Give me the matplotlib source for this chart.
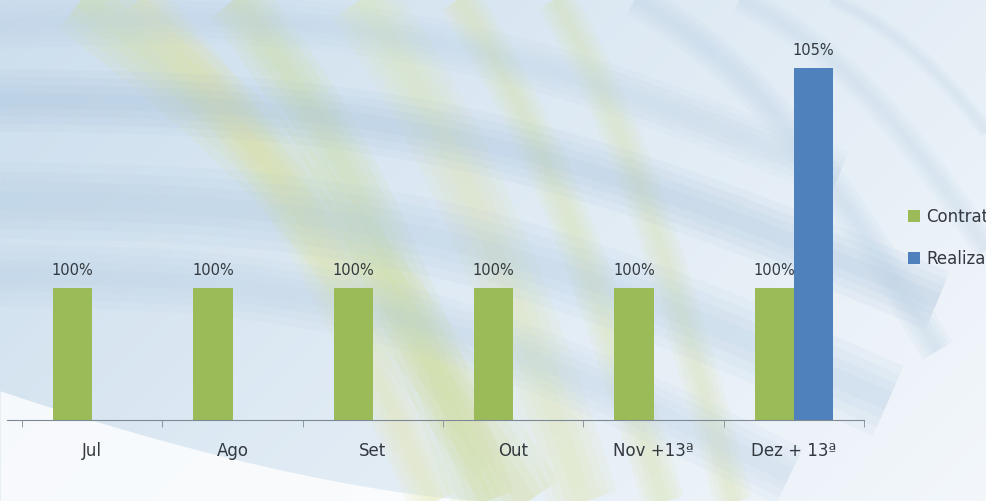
import matplotlib
matplotlib.use("Agg")
import matplotlib.pyplot as plt
import numpy as np

months = ["Jul", "Ago", "Set", "Out", "Nov +13ª", "Dez + 13ª"]
contratado = [100, 100, 100, 100, 100, 100]
realizado = [np.nan, np.nan, np.nan, np.nan, np.nan, 105]
series_names = ["Contratado", "Realizado"]

GREEN = "#9bbb59"
BLUE = "#4f81bd"
TEXT = "#33393f"

plt.rcParams["font.family"] = ["DejaVu Sans"]

W, H = 987, 501
fig = plt.figure(figsize=(W / 100, H / 100), dpi=100)

# --- background: pale swirl of blue / green streaks
bg = fig.add_axes([0, 0, 1, 1], zorder=0)
bg.set_xlim(0, 1); bg.set_ylim(0, 1); bg.axis("off")
yy, xx = np.mgrid[0:1:200j, 0:1:400j]
base = np.zeros((200, 400, 3))
light = np.clip(0.6 * xx + 0.3 * (1 - yy), 0, 1)[..., None]
base[:] = (1 - light) * np.array([0.80, 0.87, 0.93]) + light * np.array([0.97, 0.98, 0.99])
bg.imshow(base, extent=[0, 1, 0, 1], origin="lower", aspect="auto", zorder=0)

t = np.linspace(0, 1, 200)
streaks = [
    (0.05, 1.05, 0.55, -0.05, "#d4df9a", 55, 0.40),
    (0.12, 1.05, 0.45, -0.05, "#e2e7a8", 35, 0.40),
    (0.22, 1.05, 0.50, -0.05, "#cbdc8e", 45, 0.35),
    (0.35, 1.05, 0.60, -0.05, "#dfe5a6", 50, 0.35),
    (0.45, 1.05, 0.68, -0.05, "#d8e3a0", 30, 0.35),
    (0.55, 1.05, 0.75, -0.05, "#d6e09c", 28, 0.30),
    (0.00, 0.80, 0.95, 0.40, "#9fbdd9", 45, 0.30),
    (0.00, 0.60, 0.90, 0.20, "#a9c6e0", 55, 0.28),
    (0.00, 0.45, 0.80, 0.05, "#b3cbe3", 45, 0.28),
    (0.00, 0.95, 0.85, 0.65, "#b8cfe5", 35, 0.28),
    (0.60, 1.05, 0.95, 0.30, "#bcd2e6", 25, 0.35),
    (0.70, 1.05, 1.05, 0.35, "#c5d8ea", 20, 0.35),
    (0.78, 1.05, 1.10, 0.45, "#c9dbeb", 12, 0.35),
]
for x0, y0, x1, y1, c, lw, a in streaks:
    x = x0 + (x1 - x0) * t
    y = y0 + (y1 - y0) * t + 0.12 * np.sin(np.pi * t)
    # layered strokes give soft, blurred edges
    for k in (1.0, 0.75, 0.5, 0.25):
        bg.plot(x, y, color=c, lw=lw * k, alpha=a / 3, solid_capstyle="butt")
# white sweep at lower left
x = np.linspace(0, 0.5, 100)
bg.fill_between(x, 0, 0.22 * (1 - x / 0.5) ** 1.5, color="white", alpha=0.8, lw=0)

# --- chart
ax_left, ax_right = 7 / W, 864 / W
ax_bot, ax_top = (H - 420) / H, (H - 2) / H
ax = fig.add_axes([ax_left, ax_bot, ax_right - ax_left, ax_top - ax_bot], zorder=1)
ax.patch.set_alpha(0)

x = np.arange(len(months))
w = 0.28
ax.bar(x - w / 2, contratado, w, color=GREEN, label=series_names[0], zorder=2)
ax.bar(x + w / 2, realizado, w, color=BLUE, label=series_names[1], zorder=2)

ax.set_ylim(97, 106.5)
ax.set_xlim(-0.607, 5.5)

for xi, v in zip(x, contratado):
    ax.text(xi - w / 2, v + 0.22, f"{v:.0f}%", ha="center", va="bottom",
            fontsize=10.5, color=TEXT, zorder=3)
for xi, v in zip(x, realizado):
    if not np.isnan(v):
        ax.text(xi + w / 2, v + 0.22, f"{v:.0f}%", ha="center", va="bottom",
                fontsize=10.5, color=TEXT, zorder=3)

for s in ["top", "left", "right"]:
    ax.spines[s].set_visible(False)
ax.spines["bottom"].set_color("#7d8a96")
ax.set_yticks([])
ax.set_xticks(x)
ax.set_xticklabels(months, fontsize=12, color=TEXT)
ax.tick_params(axis="x", which="major", length=0, pad=16)
ax.set_xticks(np.arange(-0.5, 6, 1), minor=True)
ax.tick_params(axis="x", which="minor", length=5, color="#7d8a96", direction="out")

# legend sits partly past the right edge, as in the source image
fig.legend(loc="upper left", bbox_to_anchor=(893 / W, (H - 193) / H),
           frameon=False, fontsize=12, handlelength=0.7, handleheight=0.7,
           handletextpad=0.4, labelspacing=1.45, labelcolor=TEXT)

fig.savefig("out.png", dpi=100)
